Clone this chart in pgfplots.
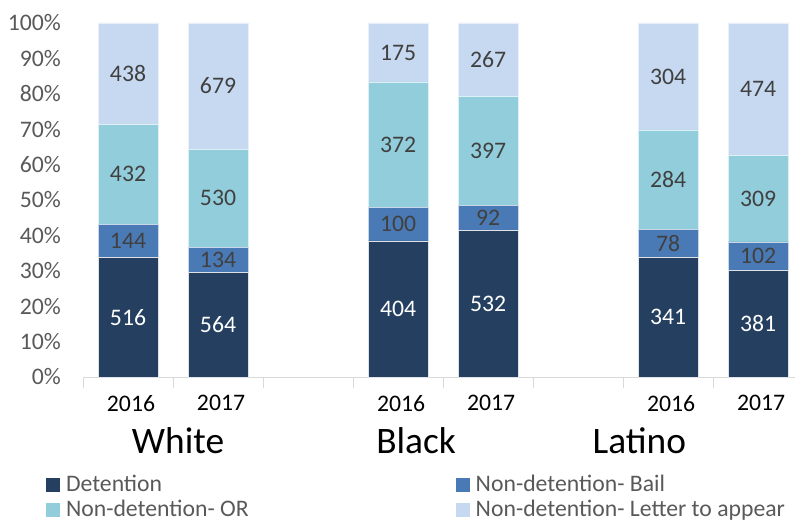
\documentclass[border=0pt]{standalone}
\usepackage{pgfplots}
\pgfplotsset{compat=1.18}
\usepackage{pgfplotstable}
\usepackage{fontspec}
\setmainfont{Carlito}

\definecolor{cDet}{HTML}{243F60}
\definecolor{cBail}{HTML}{4A7AB5}
\definecolor{cOR}{HTML}{92CDDC}
\definecolor{cLet}{HTML}{C6D9F1}
\definecolor{txtgray}{HTML}{595959}
\definecolor{lblgray}{HTML}{404040}
\definecolor{axgray}{HTML}{D9D9D9}

% shares in percent (counts in the label tables)
\pgfplotstableread{
x det bail or let
0 33.725 9.412 28.235 28.627
1 29.575 7.027 27.792 35.606
3 38.440 9.515 35.395 16.651
4 41.304 7.143 30.823 20.730
6 33.863 7.746 28.203 30.189
7 30.095 8.057 24.408 37.441
}\pct

% label positions (segment mid-heights) and counts
\pgfplotstableread{
x y lab
0 16.86 516
1 14.79 564
3 19.22 404
4 20.65 532
6 16.93 341
7 15.05 381
}\labdet
\pgfplotstableread{
x y lab
0 38.43 144
1 33.09 134
3 43.20 100
4 44.88 92
6 37.74 78
7 34.12 102
0 57.25 432
1 50.50 530
3 65.65 372
4 63.86 397
6 55.71 284
7 50.36 309
0 85.69 438
1 82.20 679
3 91.67 175
4 89.64 267
6 84.91 304
7 81.28 474
}\labrest

\newcommand\fs{\fontsize{23.8}{28}\selectfont}

\begin{document}
\begin{tikzpicture}
\path[use as bounding box] (0,0) rectangle (795bp,522bp);

\begin{axis}[
    at={(83bp,145bp)}, anchor=south west,
    scale only axis, width=712bp, height=354bp,
    ybar stacked, bar width=60bp,
    xmin=-0.5, xmax=7.41, ymin=0, ymax=100,
    enlargelimits=false, clip=false,
    axis lines*=left,
    x axis line style={draw=axgray, line width=1bp},
    y axis line style={draw=none},
    xtick={0,1,3,4,6,7},
    xticklabels={2016,2017,2016,2017,2016,2017},
    minor xtick={-0.5,0.5,1.5,2.5,3.5,4.5,5.5,6.5},
    tick align=outside,
    major tick length=0pt, minor tick length=11bp,
    minor x tick style={draw=axgray, line width=1bp},
    major tick style={draw=none},
    xticklabel style={font=\fs, text=black, anchor=north, inner sep=0pt, yshift=-18bp, xshift=3bp},
    ytick={0,10,...,100},
    yticklabels={0\%,10\%,20\%,30\%,40\%,50\%,60\%,70\%,80\%,90\%,100\%},
    yticklabel style={font=\fs, text=txtgray, anchor=east, inner sep=0pt, xshift=-22bp},
    legend columns=2,
    legend cell align=left,
    legend image code/.code={\fill[#1,draw=none] (0bp,-7bp) rectangle (14bp,7bp);},
    legend style={at={(axis description cs:0,0)}, anchor=north west,
        xshift=-37bp, yshift=-98bp, draw=none, fill=none,
        font=\fs, text=txtgray, inner sep=0pt, outer sep=0pt, row sep=6bp,
        nodes={inner sep=0pt, text height=16bp, text depth=3bp},
        /tikz/every odd column/.append style={column sep=6bp},
        /tikz/every even column/.append style={column sep=207bp}},
]
\addplot[fill=cDet, draw=white!85!cDet, line width=0.6bp] table[x=x,y=det] {\pct};
\addlegendentry{Detention}
\addplot[fill=cBail, draw=white!70!cBail, line width=0.6bp] table[x=x,y=bail] {\pct};
\addlegendentry{Non-detention- Bail}
\addplot[fill=cOR, draw=white!70!cOR, line width=0.6bp] table[x=x,y=or] {\pct};
\addlegendentry{Non-detention- OR}
\addplot[fill=cLet, draw=white!60!cLet, line width=0.6bp] table[x=x,y=let] {\pct};
\addlegendentry{Non-detention- Letter to appear}

\node[font=\fontsize{37.5}{42}\selectfont, anchor=base, yshift=-76bp] at (axis cs:0.556,0) {White};
\node[font=\fontsize{37.5}{42}\selectfont, anchor=base, yshift=-76bp] at (axis cs:3.2,0) {Black};
\node[font=\fontsize{37.5}{42}\selectfont, anchor=base, yshift=-76bp] at (axis cs:5.68,0) {Latino};
\end{axis}

\begin{axis}[
    at={(83bp,145bp)}, anchor=south west,
    scale only axis, width=712bp, height=354bp,
    xmin=-0.5, xmax=7.41, ymin=0, ymax=100,
    enlargelimits=false, hide axis, clip=false,
]
\addplot[only marks, mark=none, nodes near coords, point meta=explicit symbolic,
    every node near coord/.append style={anchor=center, font=\fs, text=white, inner sep=0pt}]
    table[x=x,y=y,meta=lab] {\labdet};
\addplot[only marks, mark=none, nodes near coords, point meta=explicit symbolic,
    every node near coord/.append style={anchor=center, font=\fs, text=lblgray, inner sep=0pt}]
    table[x=x,y=y,meta=lab] {\labrest};
\end{axis}
\end{tikzpicture}
\end{document}
